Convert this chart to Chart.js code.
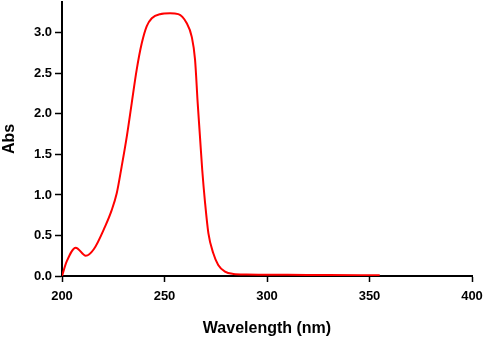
<!DOCTYPE html>
<html>
<head>
<meta charset="utf-8">
<script src="https://cdn.jsdelivr.net/npm/chart.js@4.4.1/dist/chart.umd.min.js"></script>
<style>
  body { margin: 0; background: #fff; }
  #wrap { width: 484px; height: 339px; }
</style>
</head>
<body>
<div id="wrap"><canvas id="spec" width="484" height="339"></canvas></div>
<script>
// UV absorption spectrum
var wavelength = [200, 202.3, 206.7, 211.6, 215.5, 221.0, 224.2, 226.7, 229.1, 231.6, 234.0, 236.4, 238.9, 241.3,
                  243.8, 247.8, 252.7, 256.7, 260.8, 263.3, 264.9, 266.2, 267.3, 268.4, 269.8, 271.4, 273.8, 276.2,
                  279.5, 283.6, 290, 310, 330, 355];
var absorb = [0, 0.18, 0.35, 0.25, 0.33, 0.61, 0.81, 1.02, 1.35, 1.72, 2.13, 2.54, 2.87, 3.08,
              3.18, 3.23, 3.24, 3.23, 3.12, 2.95, 2.67, 2.13, 1.72, 1.31, 0.90, 0.53, 0.28, 0.136,
              0.053, 0.025, 0.018, 0.015, 0.012, 0.01];
var xTicks = [200, 250, 300, 350, 400];
var yTicks = [0, 0.5, 1.0, 1.5, 2.0, 2.5, 3.0];

var pts = [];
for (var i = 0; i < wavelength.length; i++) {
  pts.push({x: wavelength[i], y: absorb[i]});
}

var tickFont = {family: "'Liberation Sans', Arial, sans-serif", size: 13, weight: 'bold'};
var titleFont = {family: "'Liberation Sans', Arial, sans-serif", size: 16, weight: 'bold'};

new Chart(document.getElementById('spec').getContext('2d'), {
  type: 'line',
  data: {
    datasets: [{
      label: 'Abs',
      data: pts,
      borderColor: '#ff0000',
      borderWidth: 2,
      pointRadius: 0,
      fill: false,
      cubicInterpolationMode: 'monotone'
    }]
  },
  options: {
    responsive: false,
    animation: false,
    layout: {padding: {top: 2, right: 12, left: 0, bottom: 0}},
    plugins: {legend: {display: false}, tooltip: {enabled: false}},
    scales: {
      x: {
        type: 'linear',
        min: xTicks[0],
        max: xTicks[xTicks.length - 1],
        afterBuildTicks: function(s) { s.ticks = xTicks.map(function(v){ return {value: v}; }); },
        afterFit: function(s) { s.height = 63; s.paddingLeft = 0; s.paddingRight = 0; },
        grid: {display: true, drawOnChartArea: false, drawTicks: true, tickLength: 6, tickWidth: 1.5, color: '#000'},
        border: {display: true, color: '#000', width: 2},
        ticks: {color: '#000', font: tickFont, padding: 7, maxRotation: 0,
                callback: function(v) { return v; }},
        title: {display: true, text: 'Wavelength (nm)', color: '#000', font: titleFont, padding: {top: 0, bottom: 1}}
      },
      y: {
        min: 0,
        max: 3.38,
        afterBuildTicks: function(s) { s.ticks = yTicks.map(function(v){ return {value: v}; }); },
        afterFit: function(s) { s.width = 62; s.paddingTop = 0; s.paddingBottom = 0; },
        grid: {display: true, drawOnChartArea: false, drawTicks: true, tickLength: 7, tickWidth: 1.5, color: '#000'},
        border: {display: true, color: '#000', width: 2},
        ticks: {color: '#000', font: tickFont, padding: 3,
                callback: function(v) { return v.toFixed(1); }},
        title: {display: true, text: 'Abs', color: '#000', font: titleFont, padding: {top: 0, bottom: 0}}
      }
    }
  }
});
</script>
</body>
</html>
